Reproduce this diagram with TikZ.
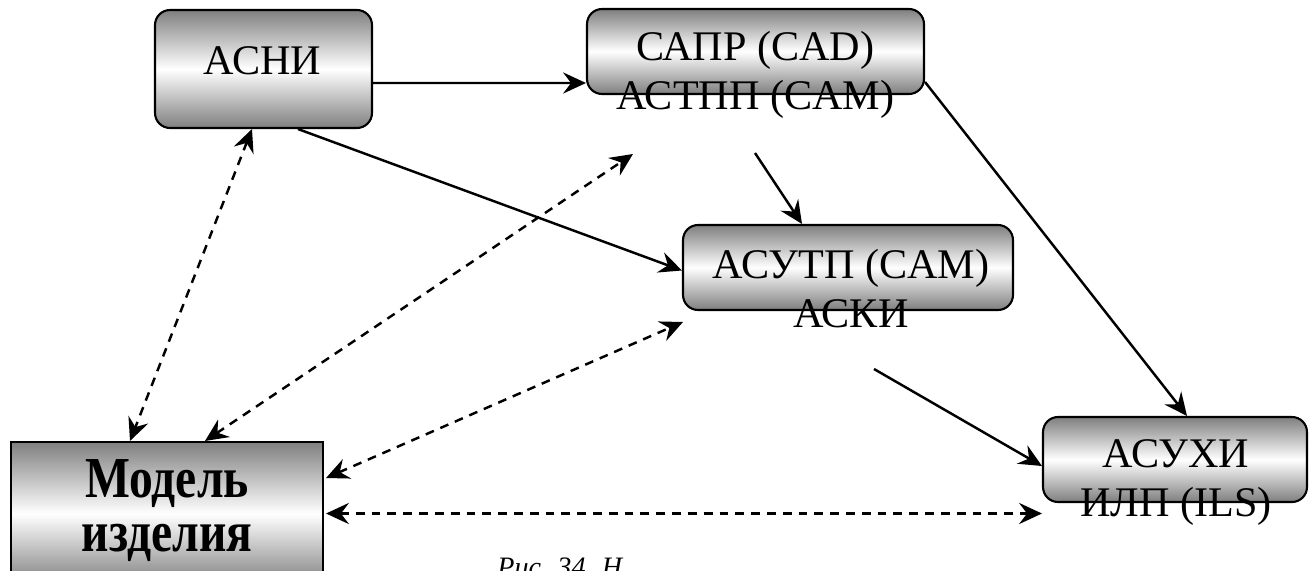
\documentclass[tikz,border=0pt]{standalone}
\usepackage{fontspec}
\setmainfont{Liberation Serif}[Ligatures=TeX]
\newfontfamily\timesfont{Liberation Serif}
\newfontfamily\narrowserif[FakeStretch=0.82]{Liberation Serif}
\usetikzlibrary{arrows.meta, calc, positioning}

\begin{document}
\begin{tikzpicture}[
  x=0.02cm, y=-0.02cm,
  box/.style={rectangle, rounded corners=0.3cm, draw=black, line width=1.2pt,
    top color=black!50, bottom color=black!50, middle color=white,
    inner sep=0pt, minimum height=1.7cm},
  modelbox/.style={box, rounded corners=0pt},
  lbl/.style={font=\timesfont\fontsize{24}{28}\selectfont, align=center, inner sep=0pt},
  arr/.style={-{Stealth[length=13pt, width=12pt, inset=4.5pt]}, line width=1.4pt},
  darr/.style={{Stealth[length=13pt, width=12pt, inset=4.5pt]}-{Stealth[length=13pt, width=12pt, inset=4.5pt]},
    line width=1.4pt, dash pattern=on 5pt off 4pt}
]
  \useasboundingbox (0,0) rectangle (1315,571);

  % blocks
  \node[box, minimum width=4.34cm, minimum height=2.36cm] (asni) at (263.5,69) {};
  \node[box, minimum width=6.74cm] (sapr)  at (755.5,51.5) {};
  \node[box, minimum width=6.6cm]  (asutp) at (848,267.5) {};
  \node[box, minimum width=5.28cm] (asuhi) at (1175,459.5) {};
  \node[modelbox, minimum width=6.24cm, minimum height=2.86cm] (model) at (167,513.5) {};

  % texts
  \node[lbl] (asnitxt)  at ($(asni)+(-1,-8)$) {АСНИ};
  \node[lbl] (saprtxt)  at ($(sapr)+(0,23)$) {САПР (CAD)\\АСТПП (CAM)};
  \node[lbl] (asutptxt) at ($(asutp)+(3,21)$) {АСУТП (CAM)\\АСКИ};
  \node[lbl] (asuhitxt) at ($(asuhi)+(1,23)$) {АСУХИ\\ИЛП (ILS)};
  \node[lbl, font=\narrowserif\fontsize{33}{31}\selectfont\bfseries] (modeltxt)
    at ($(model)+(0,-3)$) {Модель\\изделия};
  \node[font=\timesfont\fontsize{16}{18}\selectfont\itshape, anchor=north west, inner sep=0pt]
    (capt) at (497,558) {Рис. 34. Н};

  % free ends
  \coordinate (asutpin) at (755,153);
  \coordinate (asuhiin) at (874,369);
  \coordinate (saprend) at (633,154);
  \coordinate (asutpend) at (683,322);

  % solid links
  \draw[arr] ($(asni.east)+(0,14)$) -- ($(sapr.west)+(0,31.5)$);
  \draw[arr] ($(asni.south)+(34.5,0)$) -- ($(asutp.west)+(0,3)$);
  \draw[arr] (asutpin) -- ($(asutp.north)+(-46,0)$);
  \draw[arr] ($(sapr.east)+(0,30.5)$) -- ($(asuhi.north)+(12,0)$);
  \draw[arr] (asuhiin) -- ($(asuhi.west)+(0,6.5)$);

  % model links
  \draw[darr] ($(asni.south)+(-11.5,0)$) -- ($(model.north)+(-37,0)$);
  \draw[darr] ($(model.north)+(38,0)$) -- (saprend);
  \draw[darr] ($(model.east)+(2,-35.5)$) -- (asutpend);
  \draw[darr] ($(model.east)+(2,0)$) -- (asuhi.west |- model.east);
\end{tikzpicture}
\end{document}
